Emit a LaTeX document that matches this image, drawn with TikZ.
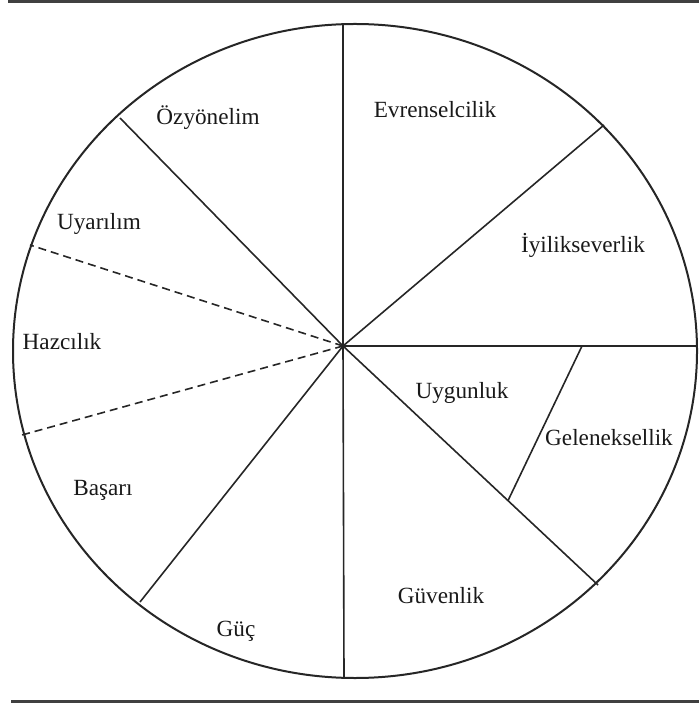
\documentclass[tikz,border=0pt]{standalone}
\usepackage{fontspec}
\setmainfont{Liberation Serif}
\usepackage{tikz}
\usetikzlibrary{positioning,calc}

\begin{document}
\begin{tikzpicture}[
  x=0.5pt,y=-0.5pt,
  font=\fontsize{11.6}{13}\selectfont,
  rule/.style={line width=1.5pt,draw=black!75},
  rim/.style={line width=1pt,draw=black!85},
  spoke/.style={line width=0.8pt,draw=black!85},
  dspoke/.style={spoke,dash pattern=on 4pt off 2.5pt},
  val/.style={inner sep=1pt,text=black!90}
]
\useasboundingbox (0,0) rectangle (699,704);

% ---- top and bottom rules ----
\coordinate (rtl) at (8,2);
\coordinate (rtr) at (699,2);
\coordinate (rbl) at (11,701);
\coordinate (rbr) at (699,701);
\draw[rule] (rtl) -- (rtr);
\draw[rule] (rbl) -- (rbr);

% ---- outer ring ----
\coordinate (mid) at (355,351);
\draw[rim] (mid) ellipse [x radius=342,y radius=327];

% ---- spokes ----
\coordinate (hub) at (343,346);
\coordinate (pN)  at (343,24);
\coordinate (pS)  at (344,678);
\coordinate (pE)  at (697,346);
\coordinate (pNE) at (604,125);
\coordinate (pNW) at (120,118);
\coordinate (pWa) at (30,245);
\coordinate (pWb) at (22,435);
\coordinate (pSW) at (140,602);
\coordinate (pSE) at (598,585);
\foreach \p in {pN,pS,pE,pNE,pNW,pSW,pSE}
  \draw[spoke] (hub) -- (\p);
\draw[dspoke] (hub) -- (pWa);
\draw[dspoke] (hub) -- (pWb);

% Uygunluk / Geleneksellik split
\coordinate (gTop) at (582,346);
\coordinate (gBot) at ($(hub)!0.647!(pSE)$);
\draw[spoke] (gTop) -- (gBot);

% ---- value labels ----
\node[val] (ozy) at (208,118) {Özyönelim};
\node[val] (evr) at (435,110) {Evrenselcilik};
\node[val] (iyi) at (583,245) {İyilikseverlik};
\node[val] (uya) at (99,224)  {Uyarılım};
\node[val] (haz) at (62,342)  {Hazcılık};
\node[val] (uyg) at (462,393) {Uygunluk};
\node[val] (gel) at (609,438) {Geleneksellik};
\node[val] (bas) at (103,490) {Başarı};
\node[val] (guv) at (441,596) {Güvenlik};
\node[val] (guc) at (236,631) {Güç};
\end{tikzpicture}
\end{document}
